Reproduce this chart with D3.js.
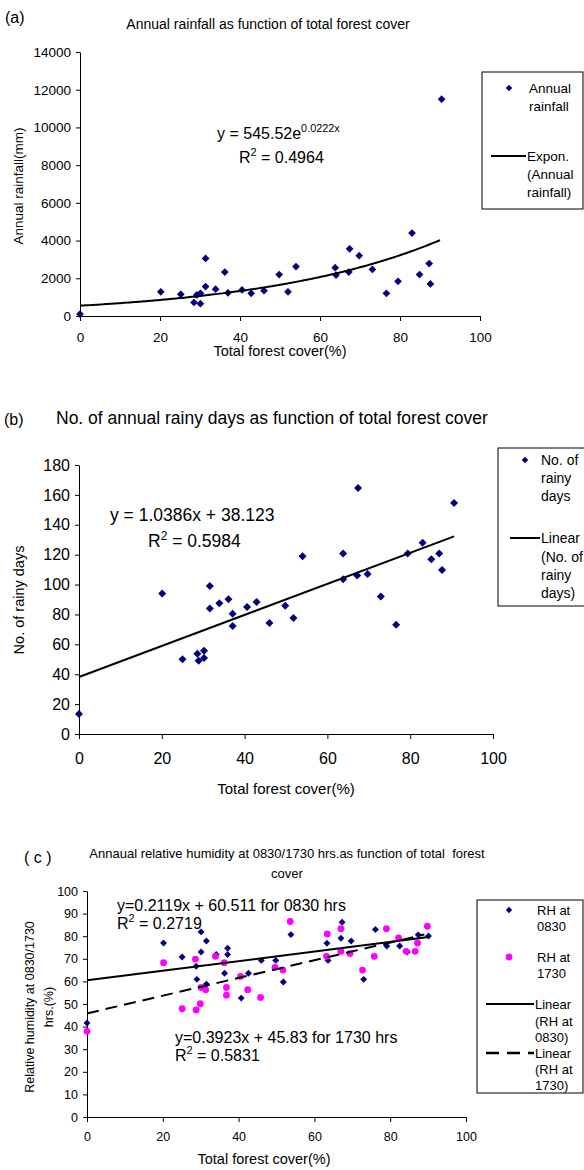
<!DOCTYPE html>
<html>
<head>
<meta charset="utf-8">
<script src="https://cdn.jsdelivr.net/npm/d3@7"></script>
<style>
    body { margin: 0; background: #fff; }
    svg { display: block; font-family: "Liberation Sans", Arial, sans-serif; }
</style>
</head>
<body>
<svg id="fig" width="584" height="1170"></svg>
<script>
(function () {
    'use strict';

    // (a) annual rainfall vs forest cover
    var rainX = [0, 20.2, 25.2, 28.5, 29.2, 30.1, 30.1, 31.4, 31.4, 33.9, 36.2, 37.0, 40.5, 42.8, 46.0, 49.8,
        52.0, 54.0, 63.8, 64.0, 67.2, 67.4, 69.8, 73.1, 76.6, 79.5, 83.0, 84.9, 87.3, 87.6, 90.4];
    var rainY = [100, 1280, 1150, 720, 1120, 1200, 650, 3050, 1560, 1420, 2330, 1230, 1380, 1200, 1340, 2200,
        1280, 2620, 2560, 2170, 2330, 3560, 3200, 2470, 1200, 1840, 4400, 2200, 2780, 1700, 11500];

    // (b) rainy days vs forest cover
    var daysX = [0, 20.1, 25.0, 28.6, 28.9, 30.2, 30.2, 31.6, 31.6, 33.9, 36.1, 37.1, 37.1, 40.6, 42.9, 46.0,
        49.8, 51.8, 54.0, 63.8, 63.8, 67.2, 67.4, 69.7, 72.9, 76.6, 79.4, 83.0, 85.1, 87.0, 87.7, 90.6];
    var daysY = [13.4, 94, 50, 53.7, 49, 55.7, 50.8, 99, 84, 87.5, 90.2, 80.4, 72.2, 84.9, 88.4, 74.2,
        85.8, 77.7, 119, 120.7, 103.6, 106, 164.6, 107.1, 92, 73.1, 120.7, 127.9, 117, 120.7, 109.8, 154.6];

    // (c) relative humidity at 0830 and 1730
    var rh0830X = [0, 20.2, 25.1, 28.8, 29.0, 30.1, 30.1, 31.5, 31.5, 34.1, 36.3, 37.1, 37.1, 40.7, 42.6, 46.0,
        49.8, 51.8, 53.8, 63.3, 63.6, 67.0, 67.3, 69.7, 73.0, 76.1, 79.1, 82.5, 84.5, 87.4, 90.1];
    var rh0830Y = [41.6, 77.0, 70.8, 66.7, 60.9, 81.9, 73.0, 77.9, 58.8, 71.9, 63.6, 74.7, 71.9, 52.6, 63.6, 69.3,
        69.3, 59.7, 80.7, 76.9, 69.3, 79.1, 86.2, 77.9, 60.9, 83.0, 75.7, 75.7, 73.0, 80.6, 80.1];
    var rh1730X = [0, 20.2, 25.1, 28.6, 28.8, 29.9, 30.1, 31.3, 33.9, 36.2, 36.8, 36.8, 40.5, 42.4, 45.8, 49.6,
        51.7, 53.6, 63.2, 63.4, 67.0, 67.0, 69.4, 72.7, 75.8, 79.0, 82.2, 84.2, 86.6, 87.2, 89.8];
    var rh1730Y = [37.9, 68.3, 47.9, 69.9, 47.4, 50.1, 57.3, 56.3, 71.1, 68.3, 57.3, 53.9, 62.2, 56.3, 52.9, 66.2,
        65.0, 86.5, 71.1, 81.0, 83.3, 73.3, 72.3, 65.0, 71.1, 83.3, 79.3, 73.3, 73.3, 77.0, 84.4];

    var xTicks = [0, 20, 40, 60, 80, 100];
    var rainTicks = d3.range(0, 14001, 2000);
    var daysTicks = d3.range(0, 181, 20);
    var rhTicks = d3.range(0, 101, 10);

    var navy = '#000080', magenta = '#ff00ff';
    var svg = d3.select('#fig');

    function zip(xs, ys) {
        return xs.map(function (v, i) { return [v, ys[i]]; });
    }

    // text with optional superscript parts: parts = [[str, isSup], ...]
    function label(g, x, y, size, parts, anchor) {
        var t = g.append('text')
            .attr('x', x).attr('y', y)
            .attr('dy', '0.35em')
            .attr('font-size', size)
            .attr('text-anchor', anchor || 'start');
        var up = false;
        parts.forEach(function (p) {
            var s = t.append('tspan').text(p[0]);
            if (p[1]) {
                s.attr('font-size', size * 0.68).attr('dy', -size * 0.42);
                up = true;
            } else if (up) {
                s.attr('dy', size * 0.42);
                up = false;
            }
        });
        return t;
    }

    function panel(p) {
        var x = d3.scaleLinear().domain([0, 100]).range([p.left, p.right]),
            y = d3.scaleLinear().domain([0, p.ymax]).range([p.bottom, p.top]),
            g = svg.append('g');

        g.append('g')
            .attr('transform', 'translate(0,' + p.bottom + ')')
            .call(d3.axisBottom(x).tickValues(xTicks).tickSize(5).tickSizeOuter(0).tickPadding(p.xpad))
            .attr('font-size', p.tick).attr('font-family', null);
        g.append('g')
            .attr('transform', 'translate(' + p.left + ',0)')
            .call(d3.axisLeft(y).tickValues(p.yTicks).tickFormat(d3.format('d'))
                .tickSize(4).tickSizeOuter(0).tickPadding(5))
            .attr('font-size', p.tick).attr('font-family', null);
        g.selectAll('.domain, .tick line').attr('stroke', '#000');
        return {g: g, x: x, y: y};
    }

    function diamonds(g, pts, x, y, size) {
        g.append('g').selectAll('path').data(pts).enter().append('path')
            .attr('d', d3.symbol(d3.symbolSquare, size))
            .attr('fill', navy)
            .attr('transform', function (d) {
                return 'translate(' + x(d[0]) + ',' + y(d[1]) + ') rotate(45)';
            });
    }

    function legendBox(g, x0, y0, x1, y1) {
        g.append('rect').attr('x', x0).attr('y', y0).attr('width', x1 - x0).attr('height', y1 - y0)
            .attr('fill', '#fff').attr('stroke', '#000').attr('stroke-width', 1);
    }

    function fixed(v) {
        return function () { return v; };
    }

    // ---------- (a) ----------
    var a = panel({left: 80, right: 480, top: 52, bottom: 316, ymax: 14000, yTicks: rainTicks, tick: 13.5, xpad: 11});
    label(a.g, 5, 17, 16, [['(a)']]);
    label(a.g, 268, 24, 14, [['Annual rainfall as function of total forest cover']], 'middle');
    label(a.g, 280, 351, 14.5, [['Total forest cover(%)']], 'middle');
    a.g.append('text').attr('transform', 'translate(18,186) rotate(-90)').attr('dy', '0.35em')
        .attr('font-size', 13.5).attr('text-anchor', 'middle').text('Annual rainfall(mm)');
    diamonds(a.g, zip(rainX, rainY), a.x, a.y, 30);
    var expLine = d3.line().x(function (d) { return a.x(d); })
        .y(function (d) { return a.y(545.52 * Math.exp(0.0222 * d)); });
    a.g.append('path').attr('d', expLine(d3.range(0, 90.41, 0.5)))
        .attr('fill', 'none').attr('stroke', '#000').attr('stroke-width', 2);
    label(a.g, 217, 133, 16, [['y = 545.52e'], ['0.0222x', true]]);
    label(a.g, 239, 157, 16, [['R'], ['2', true], [' = 0.4964']]);
    legendBox(a.g, 482, 72, 583, 209);
    diamonds(a.g, [[0, 0]], fixed(509), fixed(88), 22);
    label(a.g, 529, 88, 13.5, [['Annual']]);
    label(a.g, 529, 106, 13.5, [['rainfall']]);
    a.g.append('line').attr('x1', 491).attr('x2', 526).attr('y1', 156).attr('y2', 156)
        .attr('stroke', '#000').attr('stroke-width', 2);
    label(a.g, 527, 156, 13.5, [['Expon.']]);
    label(a.g, 527, 174, 13.5, [['(Annual']]);
    label(a.g, 527, 192, 13.5, [['rainfall)']]);

    // ---------- (b) ----------
    var b = panel({left: 79, right: 493, top: 465, bottom: 734, ymax: 180, yTicks: daysTicks, tick: 16, xpad: 14});
    label(b.g, 4, 419, 16, [['(b)']]);
    label(b.g, 56, 418, 17.5, [['No. of annual rainy days as function of total forest cover']]);
    label(b.g, 286, 789, 15, [['Total forest cover(%)']], 'middle');
    b.g.append('text').attr('transform', 'translate(19,600) rotate(-90)').attr('dy', '0.35em')
        .attr('font-size', 14.5).attr('text-anchor', 'middle').text('No. of rainy days');
    diamonds(b.g, zip(daysX, daysY), b.x, b.y, 32);
    b.g.append('line')
        .attr('x1', b.x(0)).attr('y1', b.y(38.123))
        .attr('x2', b.x(90.6)).attr('y2', b.y(1.0386 * 90.6 + 38.123))
        .attr('stroke', '#000').attr('stroke-width', 2);
    label(b.g, 110, 515, 17.5, [['y = 1.0386x + 38.123']]);
    label(b.g, 148, 541, 17.5, [['R'], ['2', true], [' = 0.5984']]);
    legendBox(b.g, 498, 448, 600, 606);
    diamonds(b.g, [[0, 0]], fixed(525), fixed(460), 22);
    label(b.g, 541, 460, 14, [['No. of']]);
    label(b.g, 541, 478, 14, [['rainy']]);
    label(b.g, 541, 496, 14, [['days']]);
    b.g.append('line').attr('x1', 510).attr('x2', 540).attr('y1', 538).attr('y2', 538)
        .attr('stroke', '#000').attr('stroke-width', 2);
    label(b.g, 541, 538, 14, [['Linear']]);
    label(b.g, 541, 557, 14, [['(No. of']]);
    label(b.g, 541, 575, 14, [['rainy']]);
    label(b.g, 541, 593, 14, [['days)']]);

    // ---------- (c) ----------
    var c = panel({left: 87, right: 466, top: 891, bottom: 1117, ymax: 100, yTicks: rhTicks, tick: 12.5, xpad: 10});
    label(c.g, 24, 857, 16, [['( c )']]);
    label(c.g, 287, 853, 13, [['Annaual relative humidity at 0830/1730 hrs.as function of total  forest']], 'middle')
        .attr('xml:space', 'preserve');
    label(c.g, 287, 873, 13, [['cover']], 'middle');
    label(c.g, 264, 1159, 14.5, [['Total forest cover(%)']], 'middle');
    var cy = c.g.append('text').attr('transform', 'translate(0,1007) rotate(-90)')
        .attr('font-size', 12.5).attr('text-anchor', 'middle');
    cy.append('tspan').attr('x', 0).attr('y', 30).attr('dy', '0.35em').text('Relative humidity at 0830/1730');
    cy.append('tspan').attr('x', 0).attr('y', 49).attr('dy', '0.35em').text('hrs.(%)');

    diamonds(c.g, zip(rh0830X, rh0830Y), c.x, c.y, 24);
    c.g.append('g').selectAll('circle').data(zip(rh1730X, rh1730Y)).enter().append('circle')
        .attr('cx', function (d) { return c.x(d[0]); })
        .attr('cy', function (d) { return c.y(d[1]); })
        .attr('r', 3.4).attr('fill', magenta);
    c.g.append('line')
        .attr('x1', c.x(0)).attr('y1', c.y(60.511))
        .attr('x2', c.x(90.1)).attr('y2', c.y(0.2119 * 90.1 + 60.511))
        .attr('stroke', '#000').attr('stroke-width', 2);
    c.g.append('line')
        .attr('x1', c.x(0)).attr('y1', c.y(45.83))
        .attr('x2', c.x(89)).attr('y2', c.y(0.3923 * 89 + 45.83))
        .attr('stroke', '#000').attr('stroke-width', 2).attr('stroke-dasharray', '12,7');
    label(c.g, 117, 905, 16, [['y=0.2119x + 60.511 for 0830 hrs']]);
    label(c.g, 117, 923, 16, [['R'], ['2', true], [' = 0.2719']]);
    label(c.g, 175, 1037, 16, [['y=0.3923x + 45.83 for 1730 hrs']]);
    label(c.g, 175, 1055, 16, [['R'], ['2', true], [' = 0.5831']]);

    legendBox(c.g, 477, 900, 583, 1093);
    diamonds(c.g, [[0, 0]], fixed(509), fixed(910), 20);
    label(c.g, 537, 910, 13, [['RH at']]);
    label(c.g, 537, 926, 13, [['0830']]);
    c.g.append('circle').attr('cx', 509).attr('cy', 957).attr('r', 3.4).attr('fill', magenta);
    label(c.g, 537, 957, 13, [['RH at']]);
    label(c.g, 537, 973, 13, [['1730']]);
    c.g.append('line').attr('x1', 486).attr('x2', 534).attr('y1', 1004).attr('y2', 1004)
        .attr('stroke', '#000').attr('stroke-width', 2);
    label(c.g, 535, 1004, 13, [['Linear']]);
    label(c.g, 535, 1021, 13, [['(RH at']]);
    label(c.g, 535, 1037, 13, [['0830)']]);
    c.g.append('line').attr('x1', 486).attr('x2', 534).attr('y1', 1053).attr('y2', 1053)
        .attr('stroke', '#000').attr('stroke-width', 2.5).attr('stroke-dasharray', '13,8');
    label(c.g, 535, 1053, 13, [['Linear']]);
    label(c.g, 535, 1069, 13, [['(RH at']]);
    label(c.g, 535, 1085, 13, [['1730)']]);
}());
</script>
</body>
</html>
